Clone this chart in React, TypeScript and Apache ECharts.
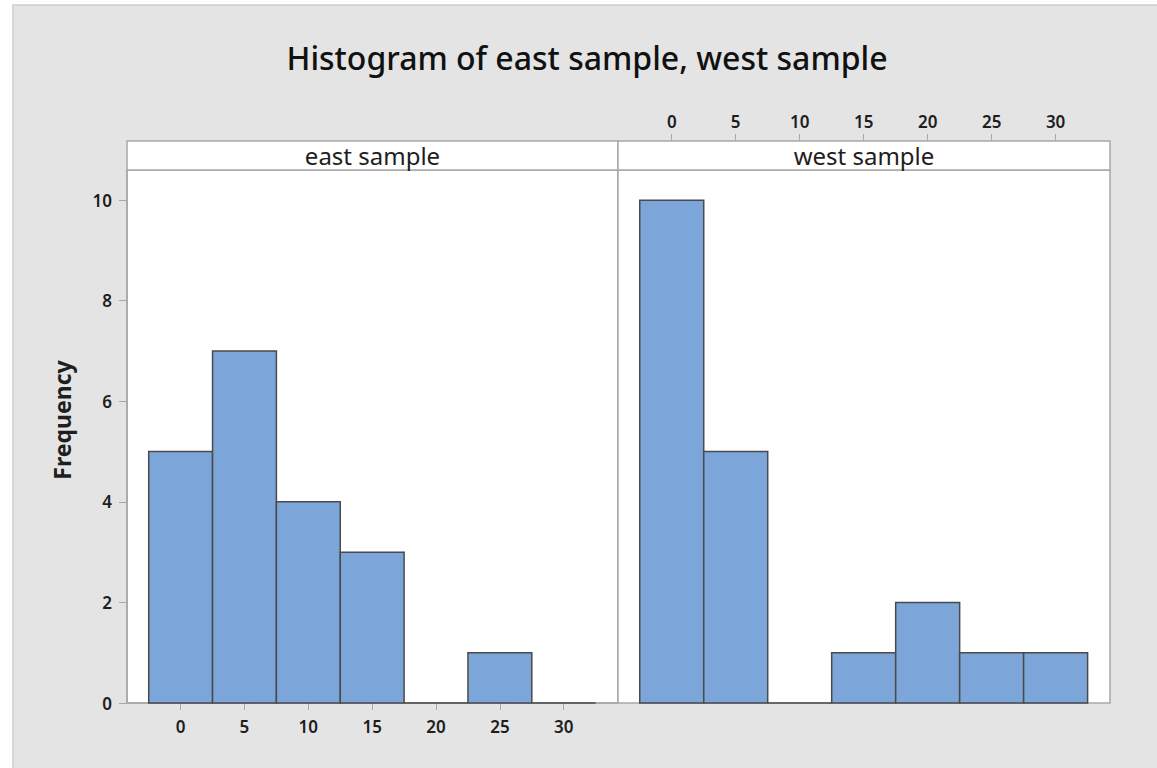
import React, { useEffect, useRef } from "react";
import * as echarts from "echarts";

const binCenters = [0, 5, 10, 15, 20, 25, 30];
const binWidth = 5;
const eastCounts = [5, 7, 4, 3, 0, 1, 0];
const westCounts = [10, 5, 0, 1, 2, 1, 1];
const yTicks = [0, 2, 4, 6, 8, 10];
const xTicks = [0, 5, 10, 15, 20, 25, 30];
const panelNames = ["east sample", "west sample"];
const titleText = "Histogram of east sample, west sample";
const yAxisTitle = "Frequency";

const FONT = "'Noto Sans', 'DejaVu Sans', sans-serif";
const AXIS_GRAY = "#a8a8a8";
const TEXT = "#1e1e1e";

function toBins(counts: number[]) {
  return counts.map((n, i) => [binCenters[i] - binWidth / 2, binCenters[i] + binWidth / 2, n]);
}

const renderBar = (params: any, api: any) => {
  const x0 = api.value(0);
  const x1 = api.value(1);
  const n = api.value(2);
  const pTop = api.coord([x0, n]);
  const pBot = api.coord([x1, 0]);
  if (n === 0) {
    return {
      type: "line",
      shape: { x1: pTop[0], y1: pBot[1], x2: pBot[0], y2: pBot[1] },
      style: { stroke: "#4d4d4d", lineWidth: 1.5 },
    };
  }
  return {
    type: "rect",
    shape: { x: pTop[0], y: pTop[1], width: pBot[0] - pTop[0], height: pBot[1] - pTop[1] },
    style: { fill: "#7ca6d9", stroke: "#4a4a4a", lineWidth: 1.5 },
  };
};

export default function App() {
  const ref = useRef<HTMLDivElement>(null);
  useEffect(() => {
    if (!ref.current) return;
    const chart = echarts.init(ref.current, null, { renderer: "svg" });
    const W = 1157;
    const left0 = 127, mid = 618, right1 = 1110, top = 170, bottom = 703;
    const xMin = -4.2, xMax = 34.25, yMax = 10.6;
    const axisLabelStyle = { color: TEXT, fontSize: 17, fontWeight: 600, fontFamily: FONT };
    const option: any = {
      animation: false,
      backgroundColor: "#ffffff",
      graphic: [
        {
          type: "rect", z: -10, silent: true,
          shape: { x: 13, y: 5, width: 1170, height: 800 },
          style: { fill: "#e4e4e4", stroke: "#cdcdcd", lineWidth: 1.5 },
        },
        {
          type: "text",
          x: 587,
          y: 57,
          style: { text: titleText, fontFamily: FONT, fontSize: 32, fontWeight: 500, fill: "#111", align: "center", verticalAlign: "middle" },
        },
        {
          type: "text",
          x: 62,
          y: 420,
          rotation: Math.PI / 2,
          style: { text: yAxisTitle, fontFamily: FONT, fontSize: 23, fontWeight: "bold", fill: TEXT, align: "center", verticalAlign: "middle" },
        },
        ...panelNames.map((name, i) => ({
          type: "group",
          children: [
            {
              type: "rect",
              shape: { x: i === 0 ? left0 : mid, y: 141, width: i === 0 ? mid - left0 : right1 - mid, height: top - 141 },
              style: { fill: "#fff", stroke: AXIS_GRAY, lineWidth: 1.5 },
            },
            {
              type: "text",
              x: i === 0 ? (left0 + mid) / 2 : (mid + right1) / 2,
              y: 155,
              style: { text: name, fontFamily: FONT, fontSize: 24, fill: TEXT, align: "center", verticalAlign: "middle" },
            },
          ],
        })),
      ],
      grid: [
        { left: left0, right: W - mid, top, bottom: 768 - bottom, show: true, backgroundColor: "#fff", borderColor: AXIS_GRAY, borderWidth: 1.5 },
        { left: mid, right: W - right1, top, bottom: 768 - bottom, show: true, backgroundColor: "#fff", borderColor: AXIS_GRAY, borderWidth: 1.5 },
      ],
      xAxis: [
        {
          type: "value", gridIndex: 0, min: xMin, max: xMax, position: "bottom",
          axisLine: { show: true, onZero: false, lineStyle: { color: AXIS_GRAY, width: 1.5 } },
          axisTick: { show: true, length: 7, customValues: xTicks, lineStyle: { color: AXIS_GRAY } },
          axisLabel: { ...axisLabelStyle, margin: 15, customValues: xTicks },
          splitLine: { show: false },
        },
        {
          type: "value", gridIndex: 1, min: xMin, max: xMax, position: "top", offset: top - 141,
          axisLine: { show: false, onZero: false },
          axisTick: { show: true, length: 7, customValues: xTicks, lineStyle: { color: AXIS_GRAY } },
          axisLabel: { ...axisLabelStyle, margin: 11, customValues: xTicks },
          splitLine: { show: false },
        },
      ],
      yAxis: [
        {
          type: "value", gridIndex: 0, min: 0, max: yMax,
          axisLine: { show: true, onZero: false, lineStyle: { color: AXIS_GRAY, width: 1.5 } },
          axisTick: { show: true, length: 8, customValues: yTicks, lineStyle: { color: AXIS_GRAY } },
          axisLabel: { ...axisLabelStyle, margin: 15, customValues: yTicks },
          splitLine: { show: false },
        },
        {
          type: "value", gridIndex: 1, min: 0, max: yMax,
          axisLine: { show: false, onZero: false }, axisTick: { show: false }, axisLabel: { show: false },
          splitLine: { show: false },
        },
      ],
      series: [
        { type: "custom", xAxisIndex: 0, yAxisIndex: 0, renderItem: renderBar, data: toBins(eastCounts), encode: { x: [0, 1], y: 2 } },
        { type: "custom", xAxisIndex: 1, yAxisIndex: 1, renderItem: renderBar, data: toBins(westCounts), encode: { x: [0, 1], y: 2 } },
      ],
    };
    chart.setOption(option);
    return () => chart.dispose();
  }, []);
  return <div ref={ref} style={{ position: "fixed", left: 0, top: 0, width: 1157, height: 768 }} />;
}
